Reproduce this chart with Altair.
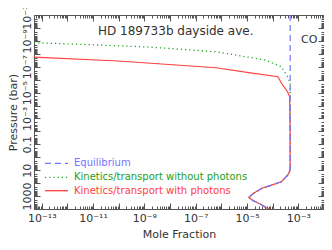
import altair as alt
import pandas as pd

# ---------------- data ----------------
# Equilibrium CO profile: mole fraction vs pressure (bar)
eq_x = [4.8e-4, 4.8e-4, 4.8e-4, 4.8e-4, 4.8e-4, 4.8e-4, 3.9e-4, 2.2e-4, 9.1e-5,
        3.8e-5, 1.8e-5, 1.17e-5, 1.6e-5, 3.8e-5, 7.1e-5]
eq_p = [1e-11, 1e-8, 1e-5, 1e-2, 1.0, 10.0, 23.4, 77.6, 141.0,
        251.0, 617.0, 1259.0, 2042.0, 4898.0, 10700.0]

# Kinetics/transport without photons (upper atmosphere part)
nophot_x = [5e-14, 1.6e-11, 1.3e-9, 6.2e-7, 5.0e-5, 2.2e-4, 3.8e-4, 4.8e-4]
nophot_p = [1.38e-9, 2.1e-9, 2.95e-9, 6.9e-9, 3.0e-8, 1.0e-7, 5.9e-7, 1.9e-6]

# Kinetics/transport with photons (upper atmosphere part)
phot_x = [5e-14, 9.5e-11, 6.2e-7, 1.17e-5, 1.6e-4, 2.2e-4, 3.8e-4, 4.6e-4]
phot_p = [1.78e-8, 3.6e-8, 1.2e-7, 2.9e-7, 5.9e-7, 1.9e-6, 8.5e-6, 2.1e-5]

legend_labels = ["Equilibrium", "Kinetics/transport without photons",
                 "Kinetics/transport with photons"]
title_text = "HD 189733b dayside ave."
species = "CO"

x_label_exps = [-13, -11, -9, -7, -5, -3]
x_tick_labels = ["10⁻¹³", "10⁻¹¹", "10⁻⁹", "10⁻⁷", "10⁻⁵", "10⁻³"]
y_label_exps = [-11, -9, -7, -5, -3, -1, 1, 3]
y_tick_labels = ["10⁻¹¹", "10⁻⁹", "10⁻⁷", "10⁻⁵", "10⁻³", "0.1", "10", "1000"]

# ---------------- styles ----------------
BLUE = "#7373ff"
GREEN = "#22a022"
RED = "#ff4040"
TXT = "#333333"
AX = "#555555"
FONT = "DejaVu Sans"

# ---------------- tables ----------------
def table(xs, ps):
    return pd.DataFrame({"x": xs, "p": ps, "i": list(range(len(xs)))})

eq_df = table(eq_x, eq_p)
green_df = table(nophot_x + [v for v, q in zip(eq_x, eq_p) if q > nophot_p[-1]],
                 nophot_p + [q for q in eq_p if q > nophot_p[-1]])
red_df = table(phot_x + [v for v, q in zip(eq_x, eq_p) if q > phot_p[-1]],
               phot_p + [q for q in eq_p if q > phot_p[-1]])

x_major = [10.0 ** e for e in range(-13, -1)]
x_minor = [k * 10.0 ** e for e in range(-14, -2) for k in range(2, 10)
           if 5e-14 <= k * 10.0 ** e <= 1e-2]
y_major = [10.0 ** e for e in range(-11, 5)]
y_minor = [k * 10.0 ** e for e in range(-11, 4) for k in range(2, 10)]


def label_expr(exps, labels):
    e = "round(log(datum.value)/LN10)"
    s = "''"
    for ex, lb in reversed(list(zip(exps, labels))):
        s = f"({e} == {ex} ? '{lb}' : {s})"
    return s


xscale = alt.Scale(type="log", domain=[5e-14, 1e-2], nice=False)
yscale = alt.Scale(type="log", domain=[1e-11, 1e4], nice=False, reverse=True)

MAJ, MIN = 6, 3

ax_bottom = alt.Axis(orient="bottom", values=x_major, offset=-MAJ, tickSize=MAJ,
                     labelExpr=label_expr(x_label_exps, x_tick_labels),
                     labelPadding=3, labelFontSize=11, labelFlush=False,
                     labelOverlap=False, title="Mole Fraction", titlePadding=5)
ax_bottom_min = alt.Axis(orient="bottom", values=x_minor, offset=-MIN, tickSize=MIN,
                         labels=False, title=None)
ax_top = alt.Axis(orient="top", values=x_major, offset=-MAJ, tickSize=MAJ,
                  labels=False, title=None)
ax_top_min = alt.Axis(orient="top", values=x_minor, offset=-MIN, tickSize=MIN,
                      labels=False, title=None)
ax_left = alt.Axis(orient="left", values=y_major, offset=-MAJ, tickSize=MAJ,
                   labelExpr=label_expr(y_label_exps, y_tick_labels),
                   labelAngle=270, labelAlign="center", labelBaseline="bottom",
                   labelPadding=2, labelFontSize=11, labelFlush=False,
                   labelOverlap=False, title="Pressure (bar)",
                   titleAngle=270, titleAlign="center", titleBaseline="bottom",
                   titleX=-22, titleY=97)
ax_left_min = alt.Axis(orient="left", values=y_minor, offset=-MIN, tickSize=MIN,
                       labels=False, title=None)
ax_right = alt.Axis(orient="right", values=y_major, offset=-MAJ, tickSize=MAJ,
                    labels=False, title=None)
ax_right_min = alt.Axis(orient="right", values=y_minor, offset=-MIN, tickSize=MIN,
                        labels=False, title=None)


def line(df, color, dash, axx, axy, width=1.2, opacity=1.0):
    mk = dict(color=color, strokeWidth=width, clip=True, opacity=opacity)
    if dash:
        mk["strokeDash"] = dash
    return alt.Chart(df).mark_line(**mk).encode(
        x=alt.X("x:Q", scale=xscale, axis=axx),
        y=alt.Y("p:Q", scale=yscale, axis=axy),
        order=alt.Order("i:Q"),
    )


green = line(green_df, GREEN, [1.2, 3], ax_bottom, ax_left, width=1.3)
red = line(red_df, RED, None, ax_bottom_min, ax_left_min)
blue = line(eq_df, BLUE, [6, 4], ax_top, ax_right)
ghost = line(eq_df, BLUE, None, ax_top_min, ax_right_min, opacity=0.0)

layers = [green, red, blue, ghost]

# annotations
layers.append(alt.Chart(pd.DataFrame({"t": [title_text]})).mark_text(
    align="left", baseline="middle", font=FONT, fontSize=12, color=TXT
).encode(text="t:N", x=alt.value(64), y=alt.value(16)))
layers.append(alt.Chart(pd.DataFrame({"t": [species]})).mark_text(
    align="left", baseline="middle", font=FONT, fontSize=11, color=TXT
).encode(text="t:N", x=alt.value(267), y=alt.value(25)))

# legend
leg_colors = [BLUE, GREEN, RED]
leg_dash = [[6, 4], [1.2, 3], None]
leg_y = [148.3, 162.3, 175.7]
for lab, col, dsh, yy in zip(legend_labels, leg_colors, leg_dash, leg_y):
    mk = dict(color=col, strokeWidth=1.3)
    if dsh:
        mk["strokeDash"] = dsh
    layers.append(alt.Chart(pd.DataFrame({"t": [lab]})).mark_rule(**mk).encode(
        x=alt.value(11), x2=alt.value(34), y=alt.value(yy)))
    layers.append(alt.Chart(pd.DataFrame({"t": [lab]})).mark_text(
        align="left", baseline="middle", font=FONT, fontSize=10, color=col
    ).encode(text="t:N", x=alt.value(40), y=alt.value(yy)))

chart = alt.layer(*layers).resolve_axis(
    x="independent", y="independent"
).properties(
    width=290, height=194,
    autosize=alt.AutoSizeParams(type="none"),
    padding={"left": 26, "top": 7, "right": 0, "bottom": 33},
).configure_view(
    stroke=AX, strokeWidth=1
).configure_axis(
    domain=False, grid=False, tickColor=AX, tickWidth=1,
    labelColor=TXT, labelFont=FONT, titleFont=FONT, titleColor=TXT,
    titleFontSize=11, titleFontWeight="normal",
)

chart.save("out.html", embed_options={"renderer": "svg", "actions": False})
